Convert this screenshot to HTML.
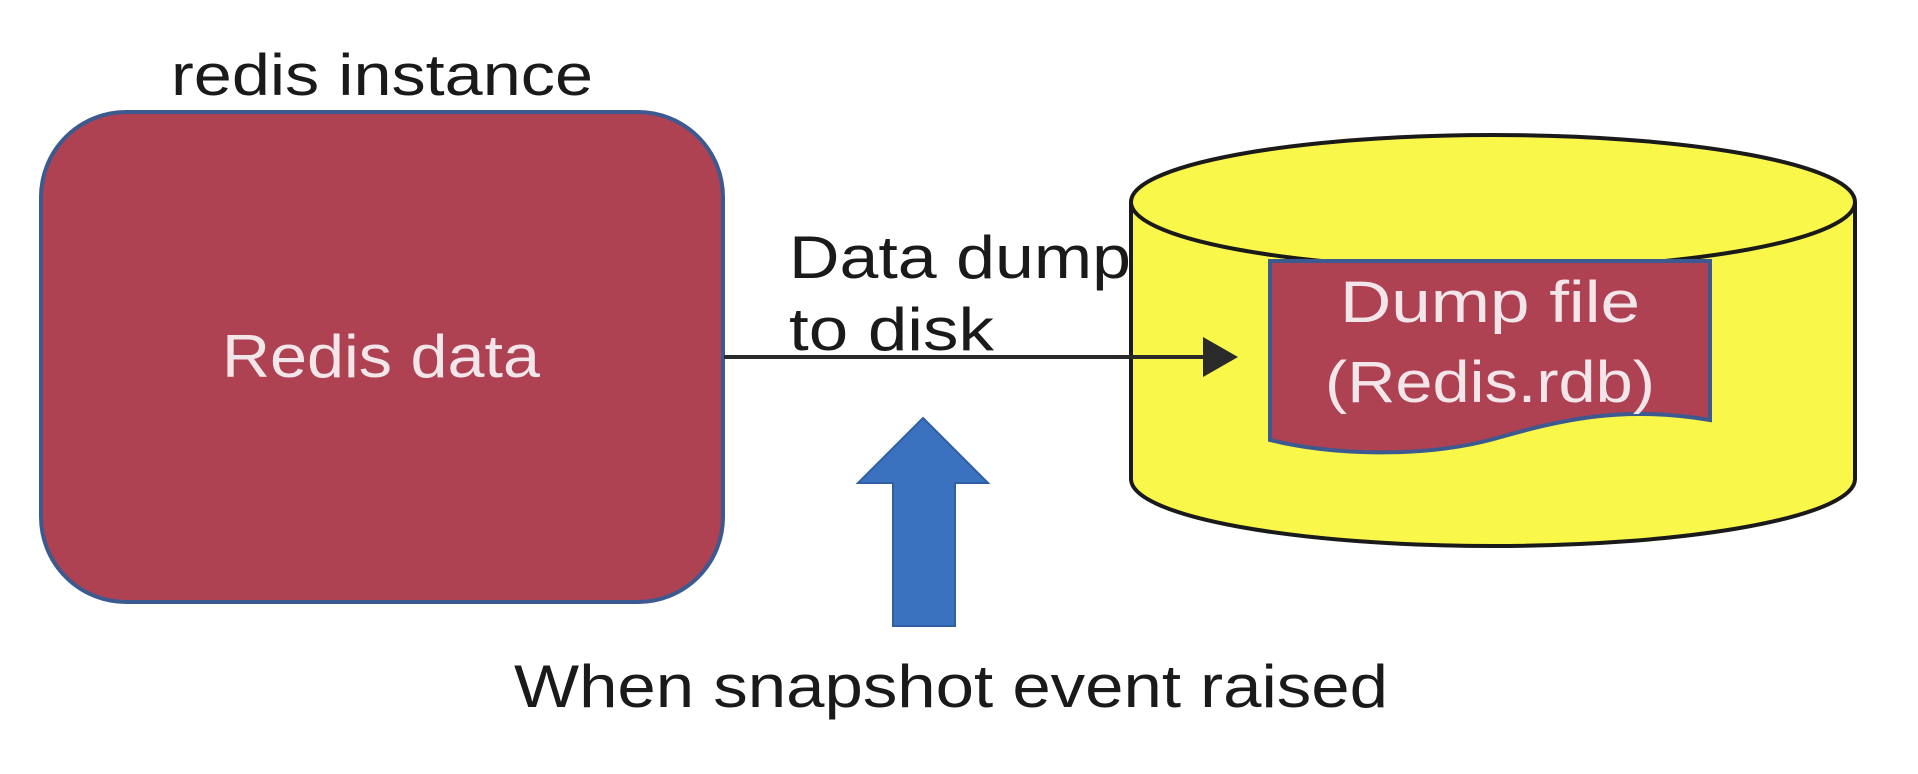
<!DOCTYPE html>
<html><head><meta charset="utf-8"><style>html,body{margin:0;padding:0;background:#fff;}svg{display:block}</style></head>
<body>
<svg width="1918" height="774" viewBox="0 0 1918 774" xmlns="http://www.w3.org/2000/svg" font-family="Liberation Sans, sans-serif">
<text x="171" y="95" font-size="58" fill="#1a1a1a" textLength="422" lengthAdjust="spacingAndGlyphs">redis instance</text>
<rect x="41" y="112" width="682" height="490" rx="85" ry="85" fill="#ae4152" stroke="#3c5a90" stroke-width="4"/>
<text x="381" y="377" font-size="60" fill="#f3e6ea" text-anchor="middle" textLength="318" lengthAdjust="spacingAndGlyphs">Redis data</text>
<!-- cylinder -->
<path d="M1131,202 L1131,479 A362,67 0 0 0 1855,479 L1855,202" fill="#f9f74a" stroke="#1a1a1a" stroke-width="4"/>
<ellipse cx="1493" cy="202" rx="362" ry="67" fill="#f9f74a" stroke="#1a1a1a" stroke-width="4"/>
<path d="M1270,261 L1710,261 L1710,420 C1620,405 1560,420 1490,440 C1420,458 1330,455 1270,440 Z" fill="#ae4152" stroke="#3c5a90" stroke-width="4"/>
<text x="1490" y="322" font-size="58" fill="#f3e6ea" text-anchor="middle" textLength="300" lengthAdjust="spacingAndGlyphs">Dump file</text>
<text x="1490" y="402" font-size="58" fill="#f3e6ea" text-anchor="middle" textLength="330" lengthAdjust="spacingAndGlyphs">(Redis.rdb)</text>
<!-- arrow -->
<line x1="724" y1="357" x2="1210" y2="357" stroke="#2a2a2a" stroke-width="4"/>
<polygon points="1238,357 1203,337 1203,377" fill="#2a2a2a"/>
<text x="789" y="278" font-size="60" fill="#1a1a1a" textLength="342" lengthAdjust="spacingAndGlyphs">Data dump</text>
<text x="789" y="350" font-size="60" fill="#1a1a1a" textLength="205" lengthAdjust="spacingAndGlyphs">to disk</text>
<!-- blue arrow -->
<polygon points="923,418 988,483 955,483 955,626 893,626 893,483 858,483" fill="#3a72bf" stroke="#2f5f9f" stroke-width="2"/>
<text x="514" y="707" font-size="60" fill="#1a1a1a" textLength="874" lengthAdjust="spacingAndGlyphs">When snapshot event raised</text>
</svg>
</body></html>
